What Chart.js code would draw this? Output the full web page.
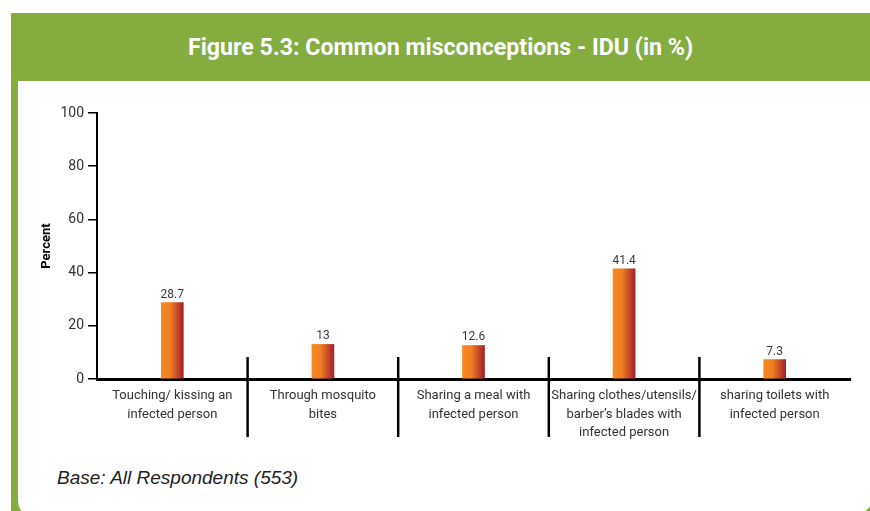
<!DOCTYPE html>
<html>
<head>
<meta charset="utf-8">
<script src="https://cdn.jsdelivr.net/npm/chart.js@4.4.1/dist/chart.umd.min.js"></script>
<style>
  html, body { margin: 0; padding: 0; background: #fff; }
  body { width: 870px; height: 511px; position: relative; overflow: hidden; }
  #frame { position: absolute; left: 11px; top: 13px; width: 870px; height: 510px; background: #84ac3f; }
  #title { position: absolute; left: 188px; top: 27px; height: 40px; line-height: 40px;
           color: #fff; font-family: Roboto, sans-serif; transform-origin: 0 50%;
           font-weight: bold; font-size: 24px; white-space: nowrap; }
  #panel { position: absolute; left: 18px; top: 81px; width: 858px; height: 436px; background: #fff;
           border-bottom-left-radius: 16px; border-bottom-right-radius: 28px; }
  #base { position: absolute; left: 57px; top: 467px; font-family: 'Liberation Sans', Arial, sans-serif;
          font-style: italic; font-size: 19px; color: #222; white-space: nowrap; }
  #wrap { position: absolute; left: 0; top: 0; width: 870px; height: 511px; }
</style>
</head>
<body>
<div id="frame"></div>
<div id="title">Figure 5.3: Common misconceptions - IDU (in %)</div>
<div id="panel"></div>
<div id="base">Base: All Respondents (553)</div>
<div id="wrap"><canvas id="chart" width="870" height="511"></canvas></div>
<script>
// categories and values
const categories = [
    ['Touching/ kissing an', 'infected person'],
    ['Through mosquito', 'bites'],
    ['Sharing a meal with', 'infected person'],
    ['Sharing clothes/utensils/', 'barber\u2019s blades with', 'infected person'],
    ['sharing toilets with', 'infected person']
];
const values = [28.7, 13, 12.6, 41.4, 7.3];
const valueLabels = ['28.7', '13', '12.6', '41.4', '7.3'];
const yTicks = [0, 20, 40, 60, 80, 100];

const font = "Roboto, 'Liberation Sans', sans-serif";

// condensed look for the title: squeeze it to the width in the figure
const titleEl = document.getElementById('title');
titleEl.style.transform = 'scaleX(' + (505 / titleEl.offsetWidth) + ')';

// value above each bar
const valuePlugin = {
    id: 'valueLabels',
    afterDatasetsDraw(chart) {
        const c = chart.ctx;
        const meta = chart.getDatasetMeta(0);
        c.save();
        c.font = '12px ' + font;
        c.fillStyle = '#3a3a3a';
        c.textAlign = 'center';
        c.textBaseline = 'bottom';
        meta.data.forEach(function(bar, i) {
            c.fillText(valueLabels[i], bar.x, bar.y - 2);
        });
        c.restore();
    }
};

// separator lines between categories
const separatorPlugin = {
    id: 'separators',
    afterDraw(chart) {
        const x = chart.scales.x;
        const y0 = chart.scales.y.getPixelForValue(0);
        const c = chart.ctx;
        c.save();
        c.strokeStyle = '#000';
        c.lineWidth = 2.5;
        for (let i = 0; i < categories.length - 1; i++) {
            const px = (x.getPixelForValue(i) + x.getPixelForValue(i + 1)) / 2;
            c.beginPath();
            c.moveTo(px, y0 - 22);
            c.lineTo(px, y0 + 58);
            c.stroke();
        }
        c.restore();
    }
};

const ctx = document.getElementById('chart').getContext('2d');
const chart = new Chart(ctx, {
    type: 'bar',
    data: {
        labels: categories,
        datasets: [{
            data: values,
            barThickness: 22,
            borderWidth: 0,
            backgroundColor: function(context) {
                const ch = context.chart;
                const px = ch.scales.x ? ch.scales.x.getPixelForValue(context.dataIndex) : NaN;
                if (!isFinite(px)) return '#f5821f';
                const g = ch.ctx.createLinearGradient(px - 11, 0, px + 11, 0);
                g.addColorStop(0, '#f7891f');
                g.addColorStop(0.4, '#ef7f21');
                g.addColorStop(1, '#a3202c');
                return g;
            }
        }]
    },
    options: {
        responsive: false,
        animation: false,
        layout: { padding: { top: 113, right: 20, left: 0, bottom: 0 } },
        plugins: {
            legend: { display: false },
            tooltip: { enabled: false }
        },
        scales: {
            x: {
                grid: { display: false, drawTicks: false },
                border: { color: '#000', width: 3 },
                ticks: {
                    color: '#333',
                    padding: 8,
                    maxRotation: 0,
                    autoSkip: false,
                    font: { family: font, size: 13, lineHeight: 1.42 }
                },
                afterFit: function(scale) { scale.height = 132; }
            },
            y: {
                min: 0,
                max: 100,
                afterBuildTicks: function(scale) {
                    scale.ticks = yTicks.map(function(v) { return { value: v }; });
                },
                grid: { drawOnChartArea: false, drawTicks: true, tickLength: 9, color: '#000', lineWidth: 1.5 },
                border: { color: '#000', width: 2 },
                ticks: {
                    color: '#333',
                    padding: 4,
                    font: { family: font, size: 14 }
                },
                title: {
                    display: true,
                    text: 'Percent',
                    color: '#000',
                    padding: { top: 39, bottom: 0 },
                    font: { family: font, size: 13, weight: 'bold' }
                },
                afterFit: function(scale) { scale.width = 97; }
            }
        }
    },
    plugins: [valuePlugin, separatorPlugin]
});
chart.update();
</script>
</body>
</html>
